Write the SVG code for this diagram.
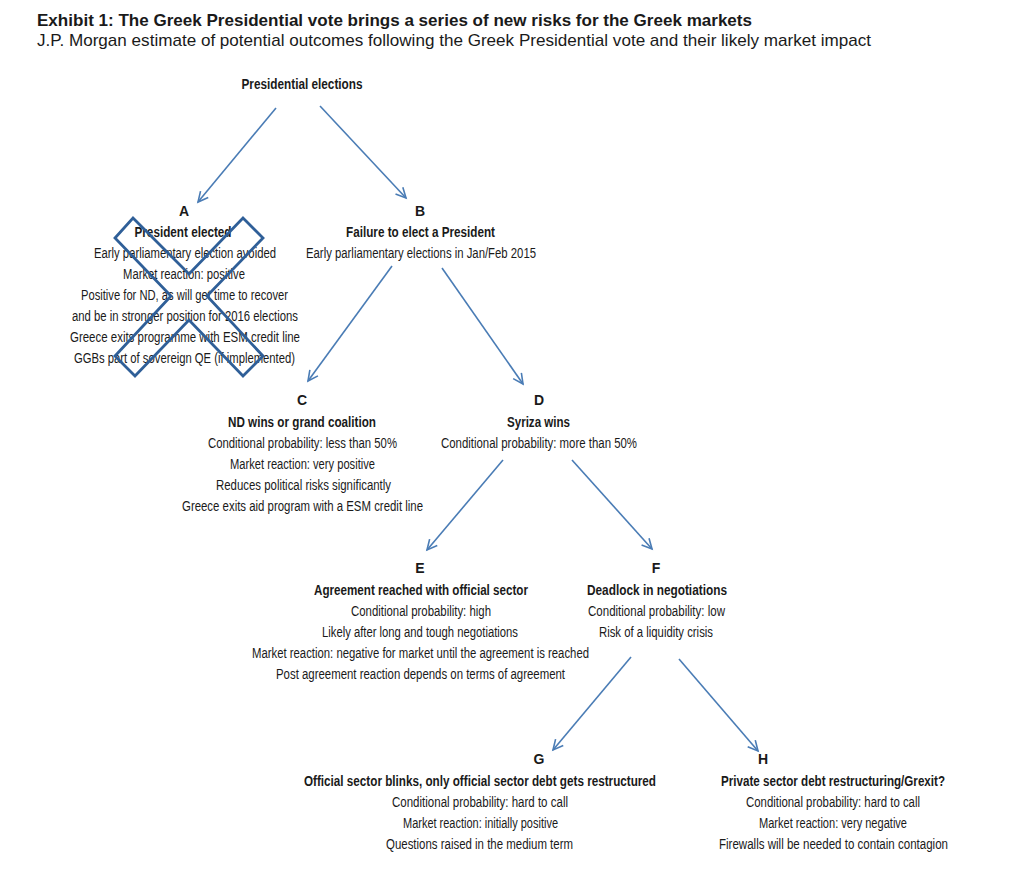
<svg xmlns="http://www.w3.org/2000/svg" width="1024" height="880" viewBox="0 0 1024 880">
<defs>
<style>
text{font-family:"Liberation Sans",Arial,sans-serif;fill:#1a1a1a}
.t{font-size:17px;font-weight:bold}
.s{font-size:17px}
.n{font-size:14px;text-anchor:middle}
.b{font-size:14px;text-anchor:middle;font-weight:bold}
.c{stroke:#4a7cb5;stroke-width:1.6;fill:none;marker-end:url(#ah)}
</style>
<marker id="ah" markerUnits="userSpaceOnUse" markerWidth="14" markerHeight="14" refX="11" refY="6" orient="auto">
<path d="M1,1 L11,6 L1,11" fill="none" stroke="#4a7cb5" stroke-width="1.6"/>
</marker>
</defs>
<rect width="1024" height="880" fill="#fff"/>
<text class="t" x="37" y="26" textLength="715" lengthAdjust="spacingAndGlyphs">Exhibit 1: The Greek Presidential vote brings a series of new risks for the Greek markets</text>
<text class="s" x="37" y="46" textLength="834" lengthAdjust="spacingAndGlyphs">J.P. Morgan estimate of potential outcomes following the Greek Presidential vote and their likely market impact</text>

<g id="connectors">
<line class="c" x1="276" y1="108" x2="198" y2="202"/>
<line class="c" x1="320" y1="106" x2="406" y2="198"/>
<line class="c" x1="392" y1="266" x2="308" y2="381"/>
<line class="c" x1="442" y1="268" x2="523" y2="384"/>
<line class="c" x1="503" y1="460" x2="427" y2="550"/>
<line class="c" x1="572" y1="460" x2="652" y2="549"/>
<line class="c" x1="631" y1="657" x2="553" y2="750"/>
<line class="c" x1="679" y1="659" x2="758" y2="751"/>
</g>

<g id="root">
<text class="b" x="302" y="89" textLength="121" lengthAdjust="spacingAndGlyphs">Presidential elections</text>
</g>

<g id="nodeA">
<text class="b" x="184" y="216">A</text>
<text class="b" x="183" y="237" textLength="97" lengthAdjust="spacingAndGlyphs">President elected</text>
<text class="n" x="185" y="258" textLength="182" lengthAdjust="spacingAndGlyphs">Early parliamentary election avoided</text>
<text class="n" x="184" y="279" textLength="122" lengthAdjust="spacingAndGlyphs">Market reaction: positive</text>
<text class="n" x="184.5" y="300" textLength="207" lengthAdjust="spacingAndGlyphs">Positive for ND, as will get time to recover</text>
<text class="n" x="185" y="321" textLength="226" lengthAdjust="spacingAndGlyphs">and be in stronger position for 2016 elections</text>
<text class="n" x="185" y="342" textLength="230" lengthAdjust="spacingAndGlyphs">Greece exits programme with ESM credit line</text>
<text class="n" x="184.5" y="363" textLength="221" lengthAdjust="spacingAndGlyphs">GGBs part of sovereign QE (if implemented)</text>
<polygon points="133,218 189,274 243,218 263,238 207,296 263,356 243,376 189,320 135,376 115,356 171,296 115,238" fill="none" stroke="#2f5f98" stroke-width="2.8" stroke-linejoin="miter"/>
</g>

<g id="nodeB">
<text class="b" x="420" y="216">B</text>
<text class="b" x="420.5" y="237" textLength="149" lengthAdjust="spacingAndGlyphs">Failure to elect a President</text>
<text class="n" x="421" y="258" textLength="230" lengthAdjust="spacingAndGlyphs">Early parliamentary elections in Jan/Feb 2015</text>
</g>

<g id="nodeC">
<text class="b" x="302" y="405">C</text>
<text class="b" x="302" y="427" textLength="148" lengthAdjust="spacingAndGlyphs">ND wins or grand coalition</text>
<text class="n" x="302.5" y="448" textLength="189" lengthAdjust="spacingAndGlyphs">Conditional probability: less than 50%</text>
<text class="n" x="302.5" y="469" textLength="145" lengthAdjust="spacingAndGlyphs">Market reaction: very positive</text>
<text class="n" x="303.5" y="490" textLength="175" lengthAdjust="spacingAndGlyphs">Reduces political risks significantly</text>
<text class="n" x="302.5" y="511" textLength="241" lengthAdjust="spacingAndGlyphs">Greece exits aid program with a ESM credit line</text>
</g>

<g id="nodeD">
<text class="b" x="539" y="405">D</text>
<text class="b" x="538.5" y="427" textLength="63" lengthAdjust="spacingAndGlyphs">Syriza wins</text>
<text class="n" x="539" y="448" textLength="196" lengthAdjust="spacingAndGlyphs">Conditional probability: more than 50%</text>
</g>

<g id="nodeE">
<text class="b" x="420" y="573">E</text>
<text class="b" x="421" y="595" textLength="214" lengthAdjust="spacingAndGlyphs">Agreement reached with official sector</text>
<text class="n" x="421" y="616" textLength="140" lengthAdjust="spacingAndGlyphs">Conditional probability: high</text>
<text class="n" x="420" y="637" textLength="196" lengthAdjust="spacingAndGlyphs">Likely after long and tough negotiations</text>
<text class="n" x="420.5" y="658" textLength="337" lengthAdjust="spacingAndGlyphs">Market reaction: negative for market until the agreement is reached</text>
<text class="n" x="420.5" y="679" textLength="289" lengthAdjust="spacingAndGlyphs">Post agreement reaction depends on terms of agreement</text>
</g>

<g id="nodeF">
<text class="b" x="656" y="573">F</text>
<text class="b" x="657" y="595" textLength="140" lengthAdjust="spacingAndGlyphs">Deadlock in negotiations</text>
<text class="n" x="656.5" y="616" textLength="137" lengthAdjust="spacingAndGlyphs">Conditional probability: low</text>
<text class="n" x="656" y="637" textLength="114" lengthAdjust="spacingAndGlyphs">Risk of a liquidity crisis</text>
</g>

<g id="nodeG">
<text class="b" x="539" y="764">G</text>
<text class="b" x="480" y="786" textLength="352" lengthAdjust="spacingAndGlyphs">Official sector blinks, only official sector debt gets restructured</text>
<text class="n" x="480" y="807" textLength="176" lengthAdjust="spacingAndGlyphs">Conditional probability: hard to call</text>
<text class="n" x="480.5" y="828" textLength="155" lengthAdjust="spacingAndGlyphs">Market reaction: initially positive</text>
<text class="n" x="479.5" y="849" textLength="187" lengthAdjust="spacingAndGlyphs">Questions raised in the medium term</text>
</g>

<g id="nodeH">
<text class="b" x="763" y="764">H</text>
<text class="b" x="833" y="786" textLength="224" lengthAdjust="spacingAndGlyphs">Private sector debt restructuring/Grexit?</text>
<text class="n" x="833" y="807" textLength="174" lengthAdjust="spacingAndGlyphs">Conditional probability: hard to call</text>
<text class="n" x="833" y="828" textLength="148" lengthAdjust="spacingAndGlyphs">Market reaction: very negative</text>
<text class="n" x="833.5" y="849" textLength="229" lengthAdjust="spacingAndGlyphs">Firewalls will be needed to contain contagion</text>
</g>
</svg>
